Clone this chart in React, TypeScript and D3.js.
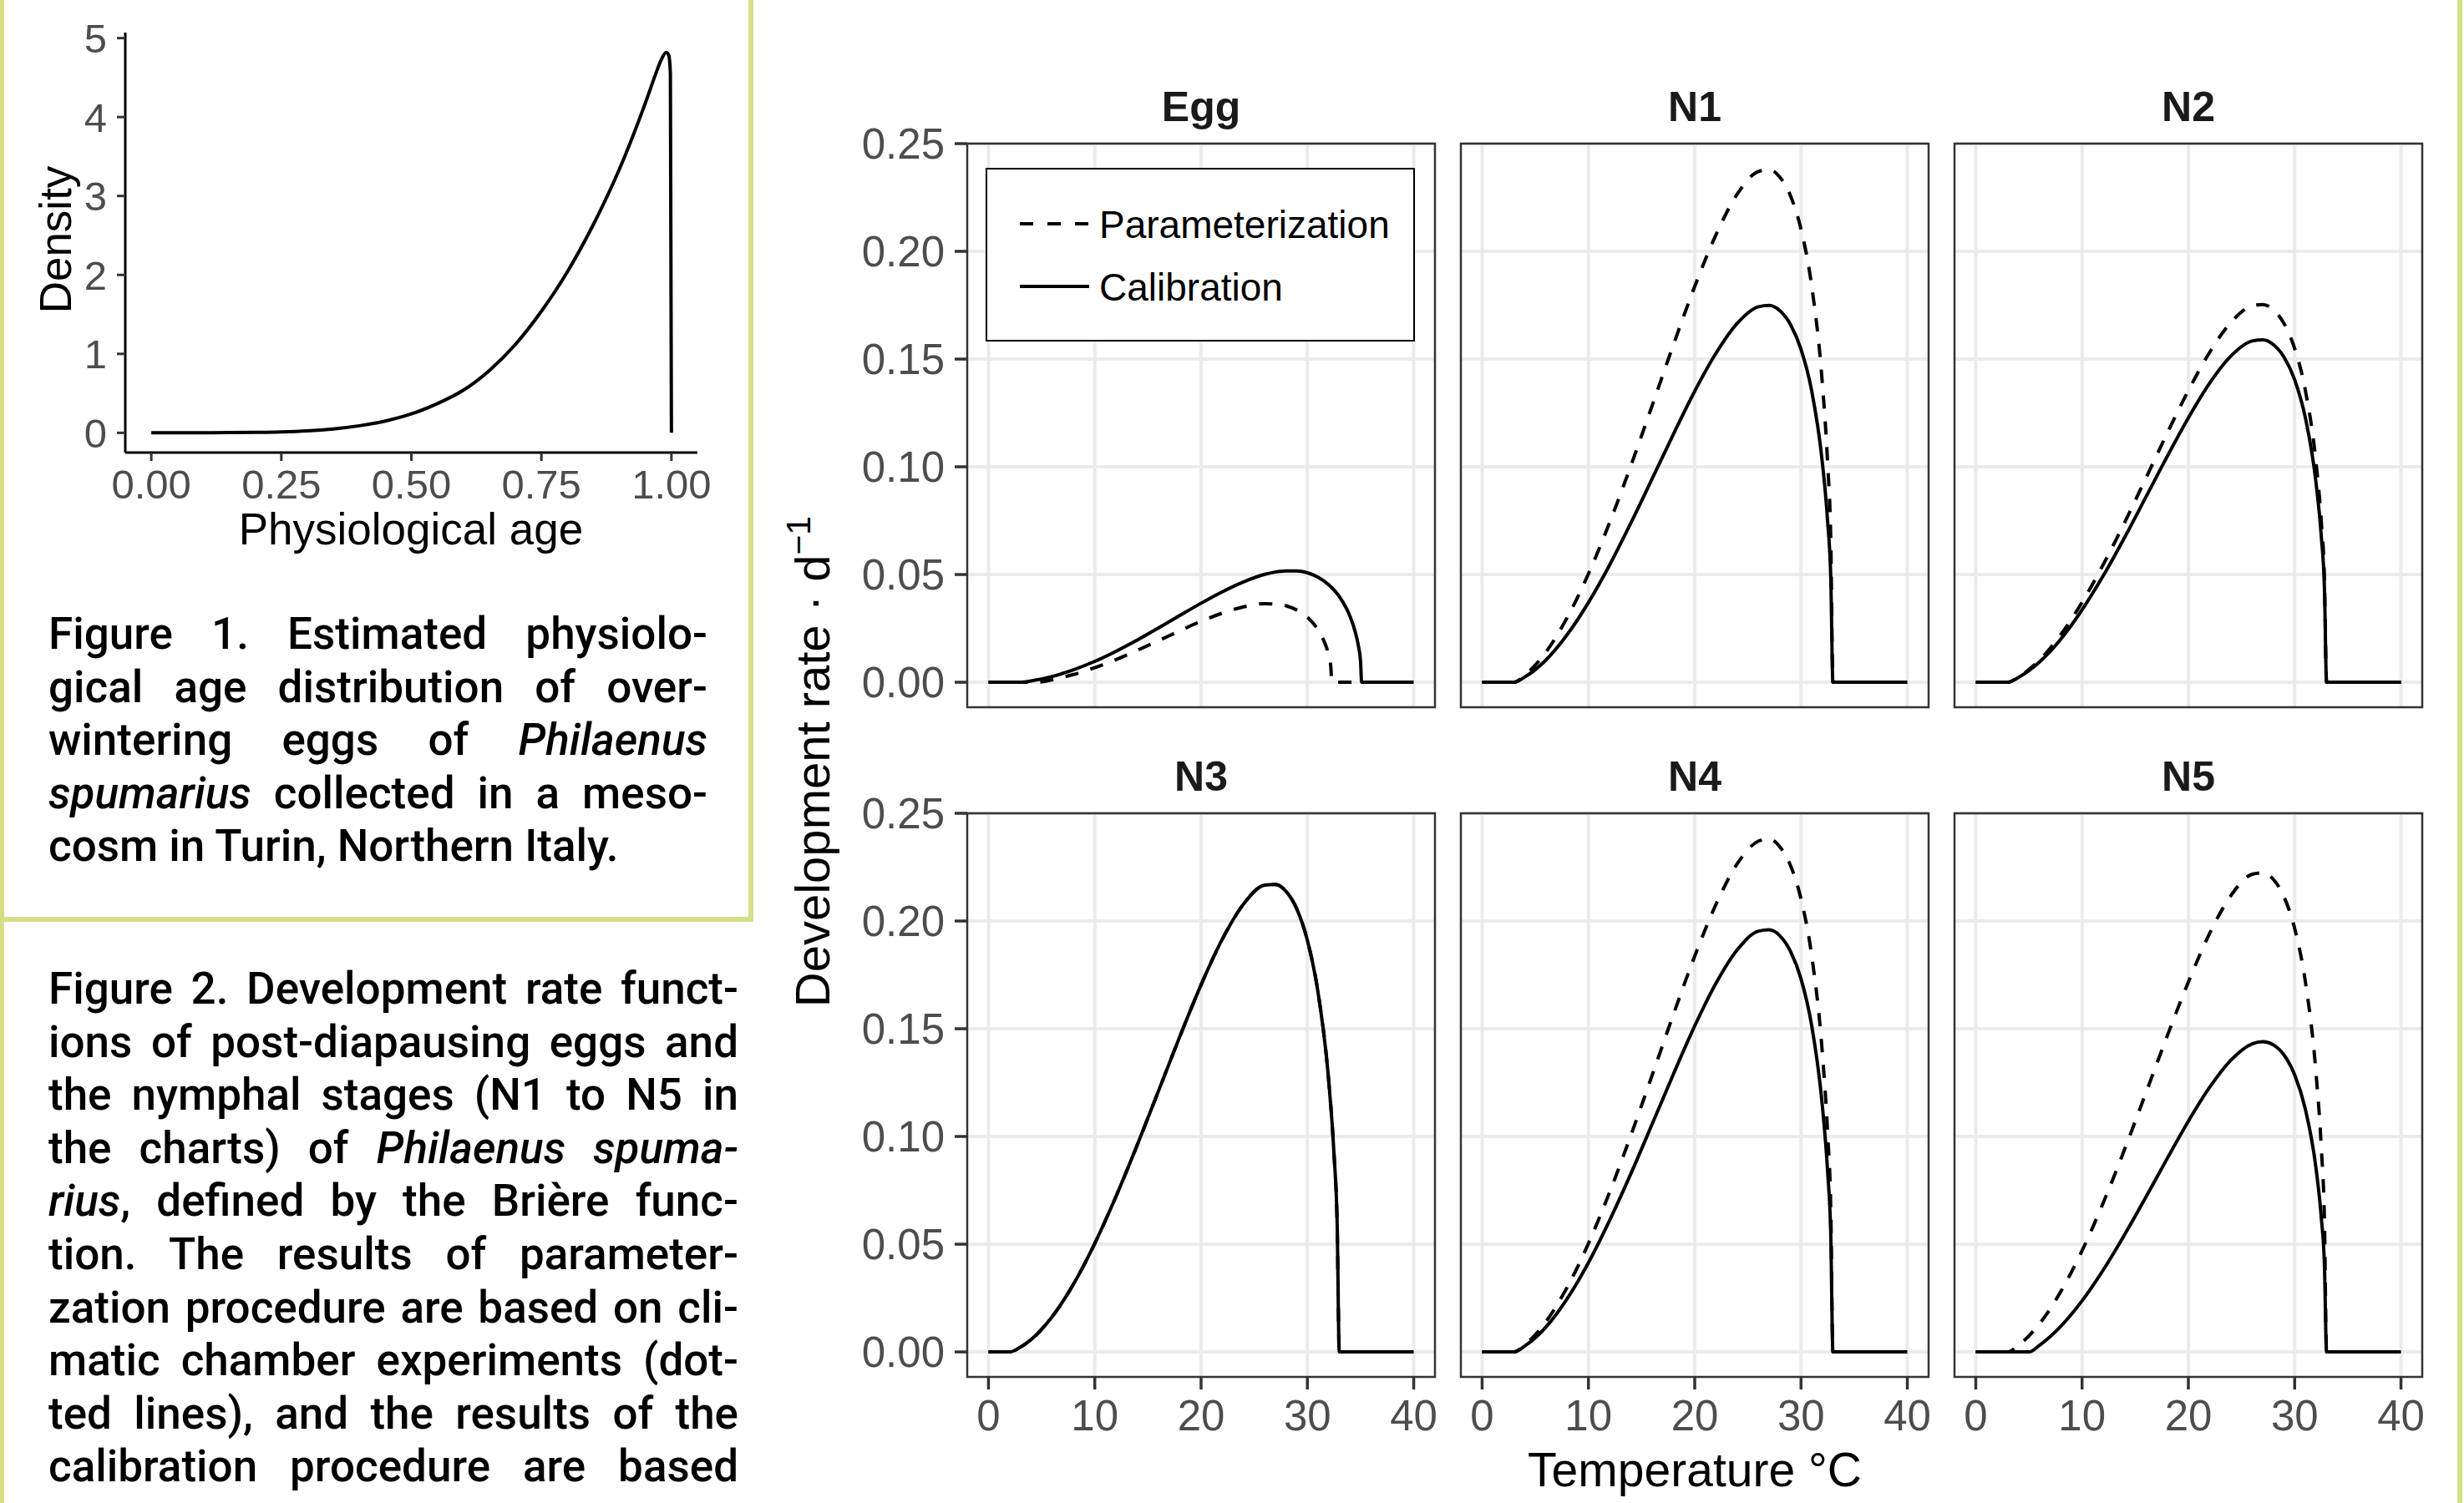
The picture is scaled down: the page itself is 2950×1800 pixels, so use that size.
import React, { useRef, useEffect } from "react";
import * as d3 from "d3";

// facet titles, ticks, legend
const stages = ["Egg", "N1", "N2", "N3", "N4", "N5"];
const tempTicks = [0, 10, 20, 30, 40];
const rateTicks = [0, 0.05, 0.1, 0.15, 0.2, 0.25];
const legendLabels = ["Parameterization", "Calibration"];

// [temperature °C, development rate d^-1]
const eggParam: [number, number][] = [[0, 0], [4.5, 0], [6, 0.0012], [8, 0.0036], [10, 0.0068], [12, 0.0105], [14, 0.0148], [16, 0.0193], [18, 0.0239], [20, 0.0283], [22, 0.0321], [24, 0.035], [26, 0.0365], [27, 0.0363], [28, 0.0355], [29, 0.0335], [30, 0.0302], [31, 0.0243], [31.5, 0.0198], [32, 0.0125], [32.2, 0.0073], [32.3, 0], [40, 0]];
const eggCalib: [number, number][] = [[0, 0], [3, 0], [4, 0.0006], [6, 0.0027], [8, 0.0058], [10, 0.0097], [12, 0.0144], [14, 0.0196], [16, 0.0252], [18, 0.031], [20, 0.0367], [22, 0.042], [24, 0.0466], [26, 0.0501], [28, 0.0517], [29, 0.0517], [30, 0.0508], [31, 0.0488], [32, 0.0453], [33, 0.0398], [34, 0.0307], [34.5, 0.0234], [34.8, 0.0168], [35, 0.0098], [35.1, 0], [40, 0]];
const n1Param: [number, number][] = [[0, 0], [3, 0], [4, 0.0032], [6, 0.014], [8, 0.03], [10, 0.0503], [12, 0.0742], [14, 0.1006], [16, 0.1285], [18, 0.1567], [20, 0.1837], [22, 0.2077], [24, 0.2266], [26, 0.2371], [27, 0.2379], [28, 0.2345], [29, 0.2259], [30, 0.2102], [31, 0.184], [32, 0.139], [32.5, 0.1016], [32.8, 0.0655], [33, 0], [40, 0]];
const n1Calib: [number, number][] = [[0, 0], [3, 0], [4, 0.0024], [6, 0.0103], [8, 0.0221], [10, 0.037], [12, 0.0545], [14, 0.074], [16, 0.0945], [18, 0.1152], [20, 0.1351], [22, 0.1527], [24, 0.1666], [26, 0.1743], [27, 0.1749], [28, 0.1725], [29, 0.1661], [30, 0.1545], [31, 0.1353], [32, 0.1022], [32.5, 0.0747], [32.8, 0.0481], [33, 0], [40, 0]];
const n2Param: [number, number][] = [[0, 0], [3, 0], [4, 0.0024], [6, 0.0103], [8, 0.0221], [10, 0.0371], [12, 0.0547], [14, 0.0741], [16, 0.0947], [18, 0.1155], [20, 0.1354], [22, 0.1531], [24, 0.167], [26, 0.1747], [27, 0.1753], [28, 0.1729], [29, 0.1665], [30, 0.1549], [31, 0.1356], [32, 0.1024], [32.5, 0.0749], [32.8, 0.0482], [33, 0], [40, 0]];
const n2Calib: [number, number][] = [[0, 0], [3, 0], [4, 0.0022], [6, 0.0094], [8, 0.02], [10, 0.0336], [12, 0.0495], [14, 0.0672], [16, 0.0859], [18, 0.1047], [20, 0.1227], [22, 0.1388], [24, 0.1514], [26, 0.1584], [27, 0.1589], [28, 0.1567], [29, 0.1509], [30, 0.1404], [31, 0.1229], [32, 0.0929], [32.5, 0.0679], [32.8, 0.0437], [33, 0], [40, 0]];
const n3Calib: [number, number][] = [[0, 0], [2, 0], [3, 0.0022], [4, 0.0057], [6, 0.0164], [8, 0.0315], [10, 0.0504], [12, 0.0722], [14, 0.0961], [16, 0.1212], [18, 0.1464], [20, 0.1704], [22, 0.1916], [24, 0.2079], [26, 0.2167], [27, 0.217], [28, 0.2137], [29, 0.2056], [30, 0.191], [31, 0.1669], [32, 0.126], [32.5, 0.092], [32.8, 0.0593], [33, 0], [40, 0]];
const n3Param = n3Calib; // both procedures give the same curve for N3
const n4Param: [number, number][] = [[0, 0], [3, 0], [4, 0.0032], [6, 0.014], [8, 0.03], [10, 0.0503], [12, 0.0742], [14, 0.1006], [16, 0.1285], [18, 0.1567], [20, 0.1837], [22, 0.2077], [24, 0.2266], [26, 0.2371], [27, 0.2382], [28, 0.2345], [29, 0.2259], [30, 0.2102], [31, 0.184], [32, 0.139], [32.5, 0.1016], [32.8, 0.0655], [33, 0], [40, 0]];
const n4Calib: [number, number][] = [[0, 0], [3, 0], [4, 0.0027], [6, 0.0115], [8, 0.0247], [10, 0.0414], [12, 0.0611], [14, 0.0828], [16, 0.1058], [18, 0.129], [20, 0.1513], [22, 0.1711], [24, 0.1866], [26, 0.1953], [27, 0.1959], [28, 0.1932], [29, 0.186], [30, 0.1731], [31, 0.1515], [32, 0.1145], [32.5, 0.0837], [32.8, 0.0539], [33, 0], [40, 0]];
const n5Param: [number, number][] = [[0, 0], [3, 0], [4, 0.003], [6, 0.0131], [8, 0.028], [10, 0.047], [12, 0.0693], [14, 0.094], [16, 0.1202], [18, 0.1465], [20, 0.1717], [22, 0.1942], [24, 0.2118], [26, 0.2217], [27, 0.2224], [28, 0.2193], [29, 0.2112], [30, 0.1965], [31, 0.172], [32, 0.1299], [32.5, 0.095], [32.8, 0.0612], [33, 0], [40, 0]];
const n5Calib: [number, number][] = [[0, 0], [5, 0], [6, 0.0031], [8, 0.0119], [10, 0.0237], [12, 0.0381], [14, 0.0544], [16, 0.0718], [18, 0.0897], [20, 0.1071], [22, 0.1228], [24, 0.1354], [26, 0.143], [27, 0.144], [28, 0.1425], [29, 0.1378], [30, 0.1286], [31, 0.1128], [32, 0.0855], [32.5, 0.0625], [32.8, 0.0404], [33, 0], [40, 0]];

const paramSeries = [eggParam, n1Param, n2Param, n3Param, n4Param, n5Param];
const calibSeries = [eggCalib, n1Calib, n2Calib, n3Calib, n4Calib, n5Calib];

// figure 1: [physiological age, density]
const ageTicks = [0, 0.25, 0.5, 0.75, 1];
const densityTicks = [0, 1, 2, 3, 4, 5];
const ageDensity: [number, number][] = [[0, 0], [0.05, 0], [0.1, 0.001], [0.15, 0.003], [0.2, 0.006], [0.25, 0.012], [0.3, 0.025], [0.35, 0.05], [0.4, 0.09], [0.45, 0.15], [0.5, 0.24], [0.55, 0.37], [0.6, 0.54], [0.65, 0.79], [0.7, 1.12], [0.75, 1.54], [0.8, 2.04], [0.85, 2.64], [0.9, 3.34], [0.95, 4.18], [0.97, 4.55], [0.98, 4.72], [0.99, 4.82], [0.995, 4.78], [0.998, 4.55], [1, 0]];

// captions, _..._ = italic
const caption1 = [
  "Figure 1. Estimated physiolo-",
  "gical age distribution of over-",
  "wintering eggs of _Philaenus_",
  "_spumarius_ collected in a meso-",
  "cosm in Turin, Northern Italy.",
];
const caption2 = [
  "Figure 2. Development rate funct-",
  "ions of post-diapausing eggs and",
  "the nymphal stages (N1 to N5 in",
  "the charts) of _Philaenus spuma-_",
  "_rius_, defined by the Brière func-",
  "tion. The results of parameter-",
  "zation procedure are based on cli-",
  "matic chamber experiments (dot-",
  "ted lines), and the results of the",
  "calibration procedure are based",
];

const FONT = "Liberation Sans, Arial, sans-serif";
const CAPFONT = "Roboto, sans-serif";
const frameColor = "#D5DF87";

function Caption({ lines, x, y0, width, justifyLast }) {
  const ref = useRef(null);
  useEffect(() => {
    d3.select(ref.current)
      .selectAll("text")
      .each(function () {
        const el = this as SVGTextElement;
        if (el.getAttribute("data-justify") !== "1") return;
        el.style.wordSpacing = "0px";
        const natural = el.getComputedTextLength();
        const spaces = (el.textContent || "").split(" ").length - 1;
        if (spaces > 0) el.style.wordSpacing = (width - natural) / spaces + "px";
      });
  }, [lines, width]);

  return (
    <g ref={ref} fontFamily={CAPFONT} fontSize={53} fontWeight={500} fill="#000">
      {lines.map((line, i) => (
        <text
          key={i}
          x={x}
          y={y0 + i * 63.6}
          data-justify={i < lines.length - 1 || justifyLast ? "1" : "0"}
          style={{ whiteSpace: "pre" }}
        >
          {line.split("_").map((seg, j) => (
            <tspan key={j} fontStyle={j % 2 ? "italic" : "normal"}>
              {seg}
            </tspan>
          ))}
        </text>
      ))}
    </g>
  );
}

function DensityPlot() {
  const x = d3.scaleLinear().domain([-0.05, 1.05]).range([150, 835]);
  const y = d3.scaleLinear().domain([-0.25, 5.07]).range([542, 39]);
  const line = d3
    .line<[number, number]>()
    .x((d) => x(d[0]))
    .y((d) => y(d[1]))
    .curve(d3.curveMonotoneX);
  return (
    <g fontFamily={FONT}>
      <path d={line(ageDensity)} fill="none" stroke="#000" strokeWidth={4} strokeLinejoin="round" />
      <line x1={150} x2={835} y1={542} y2={542} stroke="#000" strokeWidth={3} />
      <line x1={150} x2={150} y1={39} y2={542} stroke="#000" strokeWidth={3} />
      {densityTicks.map((t) => (
        <g key={t}>
          <line x1={140} x2={150} y1={y(t)} y2={y(t)} stroke="#333" strokeWidth={3} />
          <text x={128} y={y(t)} dy="0.36em" textAnchor="end" fontSize={49} fill="#4D4D4D">
            {t}
          </text>
        </g>
      ))}
      {ageTicks.map((t) => (
        <g key={t}>
          <line x1={x(t)} x2={x(t)} y1={542} y2={552} stroke="#333" strokeWidth={3} />
          <text x={x(t)} y={597} textAnchor="middle" fontSize={49} fill="#4D4D4D">
            {d3.format(".2f")(t)}
          </text>
        </g>
      ))}
      <text x={492} y={652} textAnchor="middle" fontSize={53}>
        Physiological age
      </text>
      <text transform="translate(85,287) rotate(-90)" textAnchor="middle" fontSize={53}>
        Density
      </text>
    </g>
  );
}

function RatePanels() {
  const lefts = [1158, 1749, 2340];
  const tops = [172, 974];
  const W = 560;
  const H = 675;
  const fmt = d3.format(".2f");

  return (
    <g fontFamily={FONT}>
      {stages.map((name, i) => {
        const col = i % 3;
        const row = Math.floor(i / 3);
        const left = lefts[col];
        const top = tops[row];
        const sx = d3.scaleLinear().domain([-2, 42]).range([left, left + W]);
        const sy = d3.scaleLinear().domain([-0.0116, 0.25]).range([top + H, top]);
        const line = d3
          .line<[number, number]>()
          .x((d) => sx(d[0]))
          .y((d) => sy(d[1]))
          .curve(d3.curveMonotoneX);
        return (
          <g key={name}>
            <rect x={left} y={top} width={W} height={H} fill="#fff" />
            {tempTicks.map((t) => (
              <line key={"gx" + t} x1={sx(t)} x2={sx(t)} y1={top} y2={top + H} stroke="#EBEBEB" strokeWidth={4} />
            ))}
            {rateTicks.map((t) => (
              <line key={"gy" + t} x1={left} x2={left + W} y1={sy(t)} y2={sy(t)} stroke="#EBEBEB" strokeWidth={4} />
            ))}
            <path d={line(paramSeries[i])} fill="none" stroke="#000" strokeWidth={4} strokeDasharray="16 15" />
            <path d={line(calibSeries[i])} fill="none" stroke="#000" strokeWidth={4} strokeLinejoin="round" />
            <rect x={left} y={top} width={W} height={H} fill="none" stroke="#333" strokeWidth={2.5} />
            <text x={left + W / 2} y={top - 27} textAnchor="middle" fontSize={50} fontWeight="bold" fill="#1A1A1A">
              {name}
            </text>
            {col === 0 &&
              rateTicks.map((t) => (
                <g key={"ty" + t}>
                  <line x1={left - 15} x2={left} y1={sy(t)} y2={sy(t)} stroke="#333" strokeWidth={3.5} />
                  <text x={left - 27} y={sy(t)} dy="0.36em" textAnchor="end" fontSize={51} fill="#4D4D4D">
                    {fmt(t)}
                  </text>
                </g>
              ))}
            {row === 1 &&
              tempTicks.map((t) => (
                <g key={"tx" + t}>
                  <line x1={sx(t)} x2={sx(t)} y1={top + H} y2={top + H + 15} stroke="#333" strokeWidth={3.5} />
                  <text x={sx(t)} y={1713} textAnchor="middle" fontSize={51} fill="#4D4D4D">
                    {t}
                  </text>
                </g>
              ))}
            {i === 0 && (
              <g>
                <rect x={left + 23} y={top + 30} width={512} height={206} fill="#fff" stroke="#000" strokeWidth={2} />
                <line x1={left + 63} x2={left + 146} y1={top + 96} y2={top + 96} stroke="#000" strokeWidth={4} strokeDasharray="16 17" />
                <line x1={left + 63} x2={left + 146} y1={top + 171} y2={top + 171} stroke="#000" strokeWidth={4} />
                <text x={left + 158} y={top + 96} dy="0.36em" fontSize={46}>
                  {legendLabels[0]}
                </text>
                <text x={left + 158} y={top + 171} dy="0.36em" fontSize={46}>
                  {legendLabels[1]}
                </text>
              </g>
            )}
          </g>
        );
      })}
      <text x={2029} y={1780} textAnchor="middle" fontSize={57}>
        Temperature °C
      </text>
      <text transform="translate(993,912) rotate(-90)" textAnchor="middle" fontSize={58}>
        Development rate · d
        <tspan baselineShift="super" fontSize={41}>
          −1
        </tspan>
      </text>
    </g>
  );
}

export default function App() {
  return (
    <svg
      width={2950}
      height={1800}
      style={{ position: "absolute", left: 0, top: 0, background: "#fff" }}
    >
      <rect x={0} y={0} width={2950} height={1800} fill="#fff" />
      <DensityPlot />
      <Caption lines={caption1} x={58} y0={777} width={789} justifyLast={false} />
      <Caption lines={caption2} x={58} y0={1202} width={826} justifyLast={true} />
      <RatePanels />
      {/* frame lines */}
      <rect x={0} y={0} width={5} height={1800} fill={frameColor} />
      <rect x={896} y={0} width={6} height={1104} fill={frameColor} />
      <rect x={0} y={1098} width={902} height={6} fill={frameColor} />
      <rect x={2942} y={0} width={6} height={1800} fill={frameColor} />
    </svg>
  );
}
